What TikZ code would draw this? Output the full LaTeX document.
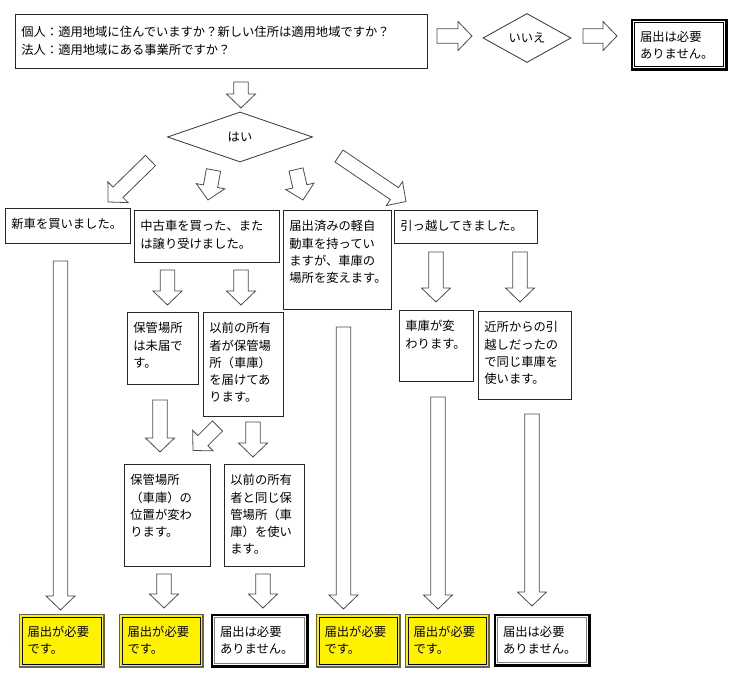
\documentclass[tikz,border=0pt]{standalone}
\usepackage{fontspec}
\newfontfamily\jp{Noto Sans CJK JP}
\usetikzlibrary{shapes.geometric}
\usetikzlibrary{calc}
\definecolor{olivegray}{RGB}{100,100,80}
\tikzset{
  box/.style={draw=black!85, line width=0.8pt, anchor=north west, inner xsep=6pt, inner ysep=4.5pt,
    text height=16pt, align=left, font=\jp\fontsize{12.3}{17.2}\selectfont},
  ybox/.style={box, fill=yellow, draw=black, line width=1.2pt, text height=14.5pt, inner xsep=5.5pt,
    preaction={draw=olivegray, line width=7pt}, preaction={draw=yellow, line width=4pt}},
  wbox/.style={box, fill=white, draw=#1, line width=1.1pt, text height=14.5pt, inner xsep=5.5pt,
    preaction={draw=black, line width=8pt}, preaction={draw=white, line width=3.5pt}},
  wbox/.default=black!50,
  dia/.style={draw=black!80, line width=0.8pt, shape=diamond, inner sep=0pt,
    font=\jp\fontsize{12.3}{17.2}\selectfont},
  blk/.style={draw=black!70, fill=white, line width=0.8pt, line join=miter, to path={
    ($(\tikztostart)!\sw!90:(\tikztotarget)$)
    -- ($(\tikztotarget)!\hl!(\tikztostart)!\sw!-90:(\tikztostart)$)
    -- ($(\tikztotarget)!\hl!(\tikztostart)!\hw!-90:(\tikztostart)$)
    -- (\tikztotarget)
    -- ($(\tikztotarget)!\hl!(\tikztostart)!\hw!90:(\tikztostart)$)
    -- ($(\tikztotarget)!\hl!(\tikztostart)!\sw!90:(\tikztostart)$)
    -- ($(\tikztostart)!\sw!-90:(\tikztotarget)$) -- cycle}}
}
\begin{document}
\begin{tikzpicture}[x=1pt, y=-1pt]
\def\sw{7.2pt}
\def\hw{14.5pt}
\def\hl{14pt}
\useasboundingbox (0,0) rectangle (740,676);

% question and yes / no
\node [box, text width=400pt, text height=18pt, text depth=27pt, name=q] at (15,14)
  {個人：適用地域に住んでいますか？新しい住所は適用地域ですか？\\法人：適用地域にある事業所ですか？};
\node [dia, minimum width=88pt, minimum height=49pt, name=no] at (527,38) {いいえ};
\node [wbox=black, text width=78pt, text depth=20.5pt, name=r0] at (634,22) {届出は必要\\ありません。};
\node [dia, minimum width=145pt, minimum height=50pt, name=yes] at (240,137) {はい};

% cases
\node [box, text width=113pt, text depth=10pt, name=newcar] at (5,208) {新車を買いました。};
\node [box, text width=133pt, text depth=27pt, name=used] at (134,210) {中古車を買った、また\\は譲り受けました。};
\node [box, text width=96pt, text depth=74pt, name=keep] at (283,210) {届出済みの軽自\\動車を持ってい\\ますが、車庫の\\場所を変えます。};
\node [box, text width=131pt, text depth=8pt, name=move] at (394,210) {引っ越してきました。};

\node [box, text width=59pt, text depth=47pt, name=unreg] at (127,312) {保管場所\\は未届で\\す。};
\node [box, text width=68pt, text depth=79pt, name=prevreg] at (203,312) {以前の所有\\者が保管場\\所（車庫）\\を届けてあ\\ります。};
\node [box, text width=62pt, text depth=46pt, name=newgar] at (399,310) {車庫が変\\わります。};
\node [box, text width=81pt, text depth=63pt, name=samegar] at (478,311) {近所からの引\\越しだったの\\で同じ車庫を\\使います。};
\node [box, text width=74pt, text depth=77pt, name=change] at (124,464) {保管場所\\（車庫）の\\位置が変わ\\ります。};
\node [box, text width=68pt, text depth=77pt, name=same] at (224,464) {以前の所有\\者と同じ保\\管場所（車\\庫）を使い\\ます。};

% results
\node [ybox, text width=68pt, text depth=23.5pt, name=r1] at (21.5,616.5) {届出が必要\\です。};
\node [ybox, text width=67pt, text depth=23.5pt, name=r2] at (121.5,616.5) {届出が必要\\です。};
\node [wbox, text width=79pt, text depth=22.5pt, name=r3] at (214,617) {届出は必要\\ありません。};
\node [ybox, text width=67pt, text depth=23.5pt, name=r4] at (318.5,616.5) {届出が必要\\です。};
\node [ybox, text width=67pt, text depth=23.5pt, name=r5] at (407.5,616.5) {届出が必要\\です。};
\node [wbox, text width=78pt, text depth=21.5pt, name=r6] at (497,617) {届出は必要\\ありません。};

% arrow ends
\coordinate (a0s) at (241,82);    \coordinate (a0e) at (241,108);
\coordinate (a1s) at (437,36);    \coordinate (a1e) at (472,36);
\coordinate (a2s) at (583,36);    \coordinate (a2e) at (617,36);
\coordinate (d1s) at (150.5,160.5); \coordinate (d1e) at (108,202);
\coordinate (d2s) at (213.5,170); \coordinate (d2e) at (208,200);
\coordinate (d3s) at (296,169.5); \coordinate (d3e) at (303,200);
\coordinate (d4s) at (339,156);   \coordinate (d4e) at (406,201.5);
\coordinate (b1s) at (167.5,270); \coordinate (b1e) at (167.5,305);
\coordinate (b2s) at (241,270);   \coordinate (b2e) at (241,305);
\coordinate (c1s) at (436,252);   \coordinate (c1e) at (436,302);
\coordinate (c2s) at (520,252);   \coordinate (c2e) at (520,302);
\coordinate (e1s) at (160,400);   \coordinate (e1e) at (160,452);
\coordinate (e2s) at (217.5,426); \coordinate (e2e) at (193,450.5);
\coordinate (e3s) at (253,422);   \coordinate (e3e) at (253,457);
\coordinate (f1s) at (164,574);   \coordinate (f1e) at (164,608);
\coordinate (f2s) at (263,574);   \coordinate (f2e) at (263,608);
\coordinate (l1s) at (60.5,261);  \coordinate (l1e) at (60.5,610);
\coordinate (l2s) at (343.5,327); \coordinate (l2e) at (343.5,609);
\coordinate (l3s) at (438,397);   \coordinate (l3e) at (438,609);
\coordinate (l4s) at (532,414);   \coordinate (l4e) at (532,606);

\draw [blk] (a0s) to (a0e);
\draw [blk] (a1s) to (a1e);
\draw [blk] (a2s) to (a2e);
\draw [blk] (d1s) to (d1e);
\draw [blk] (d2s) to (d2e);
\draw [blk] (d3s) to (d3e);
\draw [blk] (d4s) to (d4e);
\draw [blk] (b1s) to (b1e);
\draw [blk] (b2s) to (b2e);
\draw [blk] (c1s) to (c1e);
\draw [blk] (c2s) to (c2e);
\draw [blk] (e1s) to (e1e);
\draw [blk] (e2s) to (e2e);
\draw [blk] (e3s) to (e3e);
\draw [blk] (f1s) to (f1e);
\draw [blk] (f2s) to (f2e);
\draw [blk] (l1s) to (l1e);
\draw [blk] (l2s) to (l2e);
\draw [blk] (l3s) to (l3e);
\draw [blk] (l4s) to (l4e);
\end{tikzpicture}
\end{document}
